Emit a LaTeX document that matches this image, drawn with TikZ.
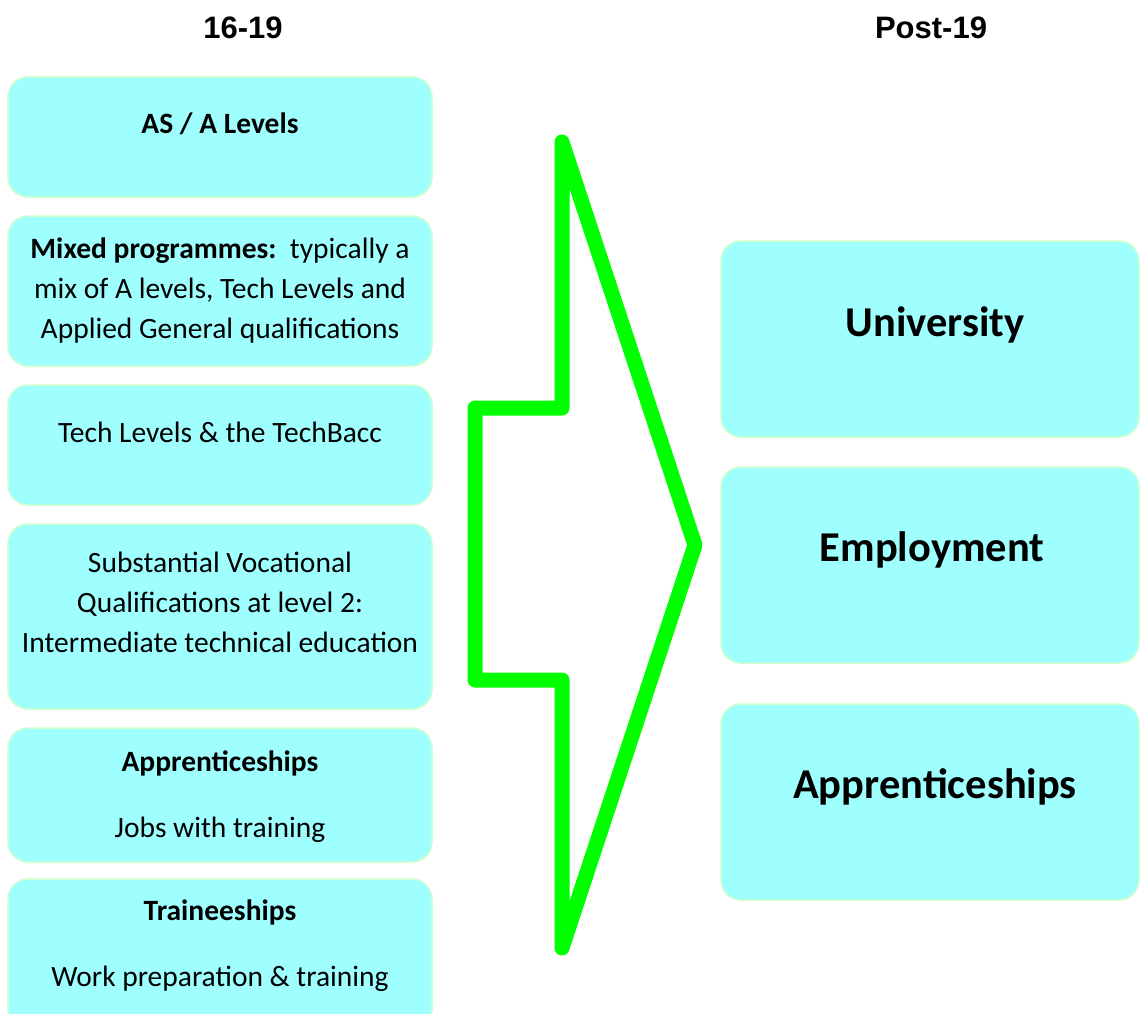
\documentclass[tikz,border=0pt]{standalone}
\usepackage{fontspec}
\setmainfont{Carlito}
\newfontfamily\hdfont{Liberation Sans}
\definecolor{boxfill}{HTML}{9FFFFF}
\definecolor{boxline}{HTML}{CCFFCC}
\definecolor{arrowgreen}{HTML}{00FF00}
\begin{document}
\begin{tikzpicture}[x=1pt,y=-1pt,
  box/.style={draw=boxline,line width=1.5pt,fill=boxfill,rounded corners=20pt,inner sep=0pt},
  txt/.style={font=\fontsize{29.5}{40}\selectfont,align=center,inner sep=0pt},
  btxt/.style={font=\fontsize{29.5}{40}\selectfont\bfseries,align=center,inner sep=0pt},
  big/.style={font=\fontsize{42.5}{46}\selectfont\bfseries,inner sep=0pt},
  hd/.style={font=\hdfont\fontsize{31}{34}\selectfont\bfseries,inner sep=0pt}]
\useasboundingbox (0,0) rectangle (1140,1014);
% headings
\node[hd] (h1) at (243,28) {16-19};
\node[hd] (h2) at (931,28) {Post-19};
% left boxes
\node[box,minimum width=424pt,minimum height=120pt] (b1) at (220,137) {};
\node[box,minimum width=424pt,minimum height=150pt] (b2) at (220,291) {};
\node[box,minimum width=424pt,minimum height=120pt] (b3) at (220,445) {};
\node[box,minimum width=424pt,minimum height=185pt] (b4) at (220,616.5) {};
\node[box,minimum width=424pt,minimum height=134pt] (b5) at (220,795) {};
\node[box,minimum width=424pt,minimum height=150pt] (b6) at (220,954) {};
\node[btxt] (t1) at (220,124) {AS / A Levels};
\node[txt] (t2) at (220,291) {\textbf{Mixed programmes:}\ \ typically a\\mix of A levels, Tech Levels and\\Applied General qualifications};
\node[txt] (t3) at (220,432) {Tech Levels \& the TechBacc};
\node[txt] (t4) at (220,602) {Substantial Vocational\\Qualifications at level 2:\\Intermediate technical education};
\node[btxt] (t5a) at (220,763) {Apprenticeships};
\node[txt] (t5b) at (220,830) {Jobs with training};
\node[btxt] (t6a) at (220,912) {Traineeships};
\node[txt] (t6b) at (220,979) {Work preparation \& training};
% right boxes
\node[box,minimum width=418pt,minimum height=196pt] (r1) at (930,339) {};
\node[box,minimum width=418pt,minimum height=196pt] (r2) at (930,565) {};
\node[box,minimum width=418pt,minimum height=196pt] (r3) at (930,802) {};
\node[big] (u1) at (935,325) {University};
\node[big] (u2) at (932,550) {Employment};
\node[big] (u3) at (935,787) {Apprenticeships};
% arrow
\draw[arrowgreen,line width=15pt,line join=round,line cap=round]
  (562,142) -- (695,545) -- (562,948) -- (562,680) -- (475,680) -- (475,408) -- (562,408) -- cycle;
\end{tikzpicture}
\end{document}
